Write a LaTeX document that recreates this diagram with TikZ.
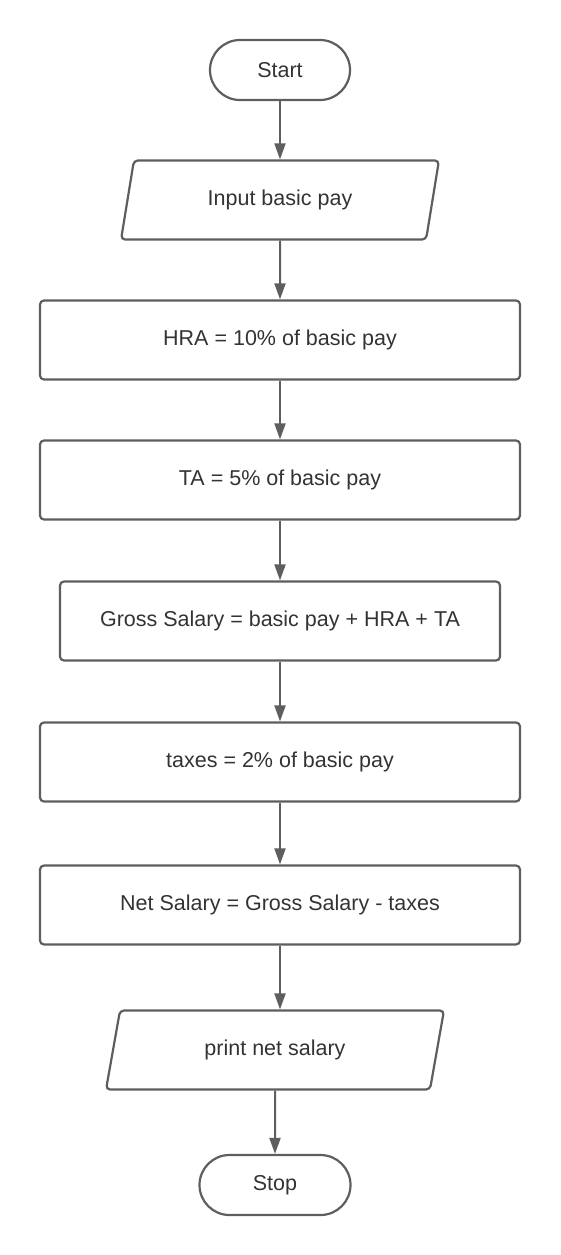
\documentclass[tikz,border=0pt]{standalone}
\usepackage{fontspec}
\setmainfont{Liberation Sans}
\usetikzlibrary{arrows.meta,shapes.geometric,positioning}
\definecolor{flowgray}{HTML}{5E5E5E}
\definecolor{textgray}{HTML}{333333}
\tikzset{
  boxfont/.style={text=textgray,font=\fontsize{21.5}{26}\selectfont},
  terminal/.style={boxfont,draw=flowgray,line width=2.2pt,rounded corners=30pt,minimum width=140pt,minimum height=60pt},
  process/.style={boxfont,draw=flowgray,line width=2.2pt,rounded corners=4pt,minimum width=480pt,minimum height=79pt},
  inout/.style={boxfont,draw=flowgray,line width=2.2pt,rounded corners=4pt,trapezium,trapezium left angle=76,trapezium right angle=104,trapezium stretches=true,minimum width=318pt,minimum height=79pt},
  flow/.style={flowgray,line width=2pt,-{Triangle[length=16pt,width=11pt]}}
}
\begin{document}
\begin{tikzpicture}[x=1pt,y=-1pt]
  \useasboundingbox (0,0) rectangle (560,1255);
  \node[terminal] (start) at (280,70) {Start};
  \node[inout] (input) at (280,200) {Input basic pay};
  \node[process] (hra) at (280,340) {HRA = 10\% of basic pay};
  \node[process] (ta) at (280,480) {TA = 5\% of basic pay};
  \node[process,minimum width=440pt] (gross) at (280,621) {Gross Salary = basic pay + HRA + TA};
  \node[process] (taxes) at (280,762) {taxes = 2\% of basic pay};
  \node[process] (net) at (280,905) {Net Salary = Gross Salary - taxes};
  \node[inout,minimum width=338pt] (print) at (275,1050) {print net salary};
  \node[terminal,minimum width=151pt] (stop) at (275,1185) {Stop};
  % arrows
  \draw[flow] (start) -- (input);
  \draw[flow] (input) -- (hra);
  \draw[flow] (hra) -- (ta);
  \draw[flow] (ta) -- (gross);
  \draw[flow] (gross) -- (taxes);
  \draw[flow] (taxes) -- (net);
  \draw[flow] (net.south) -- (net.south |- print.north);
  \draw[flow] (print) -- (stop);
\end{tikzpicture}
\end{document}
